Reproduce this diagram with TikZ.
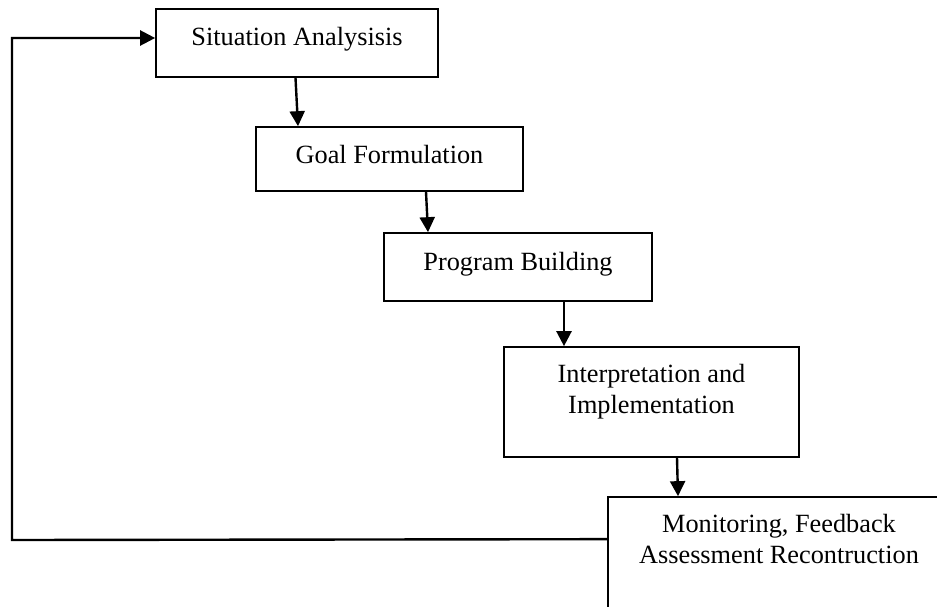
\documentclass[tikz,border=0pt]{standalone}
\usepackage{fontspec}
\setmainfont{Liberation Serif}
\usetikzlibrary{arrows.meta}

\begin{document}
\begin{tikzpicture}[x=1pt,y=-1pt,
 box/.style={draw,line width=1.7pt,align=center,inner sep=4pt,font=\fontsize{26.3}{31}\selectfont},
 >={Triangle[length=15pt,width=15pt]},
 arr/.style={->,line width=2.4pt}]
\useasboundingbox (0,0) rectangle (937,606);
\clip (0,0) rectangle (937,606);
\node[box,minimum width=282pt,minimum height=68pt,text height=18pt,text depth=14pt] (sit) at (297,43) {Situation Analysisis};
\node[box,minimum width=267pt,minimum height=64pt,text height=18pt,text depth=10pt] (goal) at (389.5,159) {Goal Formulation};
\node[box,minimum width=268pt,minimum height=68pt,text height=18pt,text depth=12pt] (prog) at (518,267) {Program Building};
\node[box,minimum width=295pt,minimum height=110pt,text depth=27pt] (impl) at (651.5,402) {Interpretation and\\Implementation};
\node[box,minimum width=342pt,minimum height=120pt,text depth=37pt] (mon) at (779,557) {Monitoring, Feedback\\Assessment Recontruction};
\coordinate (back) at (12,540);
\draw[arr] ([xshift=-1.5pt]sit.south)--([xshift=-91.5pt]goal.north);
\draw[arr] ([xshift=36.5pt]goal.south)--([xshift=-90pt]prog.north);
\draw[arr] ([xshift=46pt]prog.south)--([xshift=-87.5pt]impl.north);
\draw[arr] ([xshift=25.5pt]impl.south)--([xshift=-101pt]mon.north);
\draw[arr] ([yshift=-43pt]mon.north west)--(back)|-([yshift=5pt]sit.west);
\end{tikzpicture}
\end{document}
